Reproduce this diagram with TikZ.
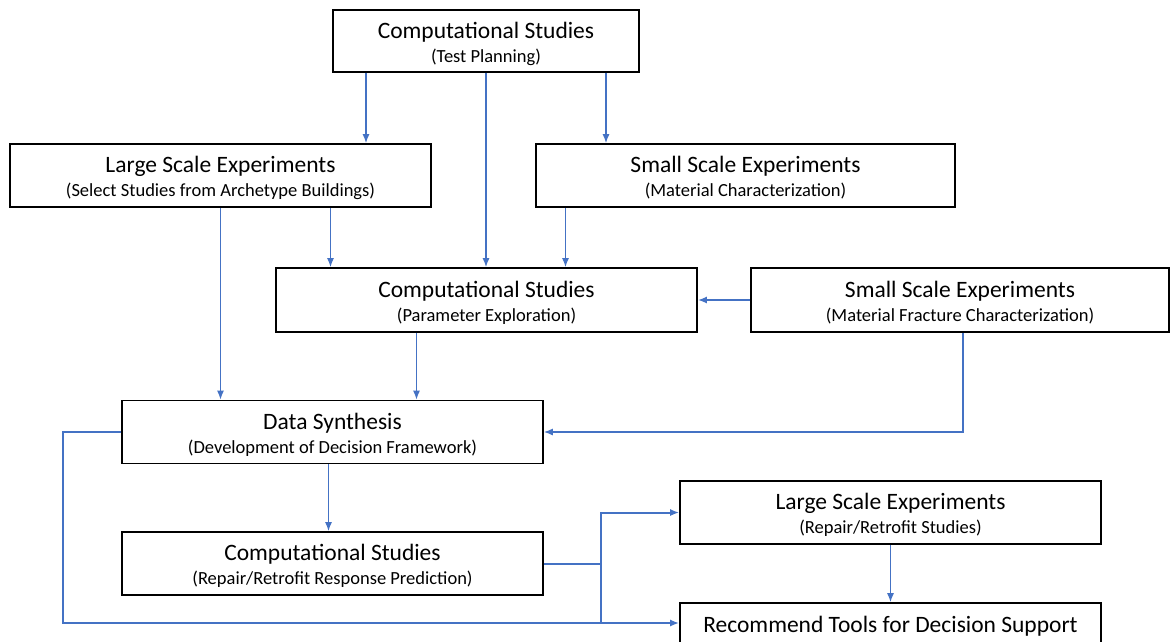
\documentclass[tikz,border=0pt]{standalone}
\usepackage{fontspec}
\setmainfont{Carlito}
\usetikzlibrary{arrows.meta}
\definecolor{ln}{HTML}{4472C4}
\begin{document}
\begin{tikzpicture}[x=1pt,y=-1pt,
  box/.style={draw=black,line width=1.6pt,minimum width=421pt,minimum height=63pt,inner sep=0pt},
  ttl/.style={font=\fontsize{23.5}{26}\selectfont,inner sep=0pt,anchor=base},
  sub/.style={font=\fontsize{18.5}{22}\selectfont,inner sep=0pt,anchor=base},
  arr/.style={draw=ln,line width=1.5pt,-{Latex[length=9pt,width=7pt]}},
  fat/.style={draw=ln,line width=2pt,-{Latex[length=9pt,width=7pt]}},
  seg/.style={draw=ln,line width=2pt}]
\useasboundingbox (0,0) rectangle (1170,641);
% boxes
\node[box,minimum width=306pt,minimum height=62pt] (top) at (486,41) {};
\node[ttl] (top-t) at ([yshift=3pt]top.center) {Computational Studies};
\node[sub] (top-s) at ([yshift=-21pt]top.center) {(Test Planning)};

\node[box] (lse) at (220.5,175.5) {};
\node[ttl] (lse-t) at ([yshift=3pt]lse.center) {Large Scale Experiments};
\node[sub] (lse-s) at ([yshift=-21pt]lse.center) {(Select Studies from Archetype Buildings)};

\node[box,minimum width=419pt] (sse) at (745.5,175.5) {};
\node[ttl] (sse-t) at ([yshift=3pt]sse.center) {Small Scale Experiments};
\node[sub] (sse-s) at ([yshift=-21pt]sse.center) {(Material Characterization)};

\node[box,minimum height=64pt] (par) at (486.5,300) {};
\node[ttl] (par-t) at ([yshift=3pt]par.center) {Computational Studies};
\node[sub] (par-s) at ([yshift=-21pt]par.center) {(Parameter Exploration)};

\node[box,minimum width=418pt,minimum height=64pt] (frac) at (960,300) {};
\node[ttl] (frac-t) at ([yshift=3pt]frac.center) {Small Scale Experiments};
\node[sub] (frac-s) at ([yshift=-21pt]frac.center) {(Material Fracture Characterization)};

\node[box] (data) at (332.5,432) {};
\node[ttl] (data-t) at ([yshift=3pt]data.center) {Data Synthesis};
\node[sub] (data-s) at ([yshift=-21pt]data.center) {(Development of Decision Framework)};

\node[box] (crp) at (332.5,563.5) {};
\node[ttl] (crp-t) at ([yshift=3pt]crp.center) {Computational Studies};
\node[sub] (crp-s) at ([yshift=-21pt]crp.center) {(Repair/Retrofit Response Prediction)};

\node[box] (lrs) at (890.5,512.5) {};
\node[ttl] (lrs-t) at ([yshift=3pt]lrs.center) {Large Scale Experiments};
\node[sub] (lrs-s) at ([yshift=-21pt]lrs.center) {(Repair/Retrofit Studies)};

\node[box,minimum height=64pt] (rec) at (890.5,635) {};
\node[ttl] (rec-t) at ([yshift=3pt]rec.center) {Recommend Tools for Decision Support};

% connectors
\draw[arr] ([xshift=-120pt]top.south) -- ([xshift=-120pt]top.south |- lse.north);
\draw[arr] (top.south) -- (top.south |- par.north);
\draw[arr] ([xshift=120pt]top.south) -- ([xshift=120pt]top.south |- sse.north);
\draw[arr] (lse.south) -- (lse.south |- data.north);
\draw[arr] ([xshift=110pt]lse.south) -- ([xshift=110pt]lse.south |- par.north);
\draw[arr] ([xshift=-180pt]sse.south) -- ([xshift=-180pt]sse.south |- par.north);
\draw[fat] (frac.west) -- (par.east);
\draw[arr] ([xshift=-70pt]par.south) -- ([xshift=-70pt]par.south |- data.north);
\draw[arr,line width=1.4pt] ([xshift=3pt]frac.south) |- (data.east);
\draw[arr] ([xshift=-4pt]data.south) -- ([xshift=-4pt]data.south |- crp.north);
\coordinate (split) at (601,563.5);
\coordinate (lft) at (63,623);
\draw[fat] (data.west) -| (lft) -- ([yshift=12pt]rec.west);
\draw[seg] (crp.east) -- (split);
\draw[fat] (split) |- (lrs.west);
\draw[seg] (split) -- (split |- lft);
\draw[arr,line width=1.3pt] (lrs.south) -- (rec.north);
\end{tikzpicture}
\end{document}
